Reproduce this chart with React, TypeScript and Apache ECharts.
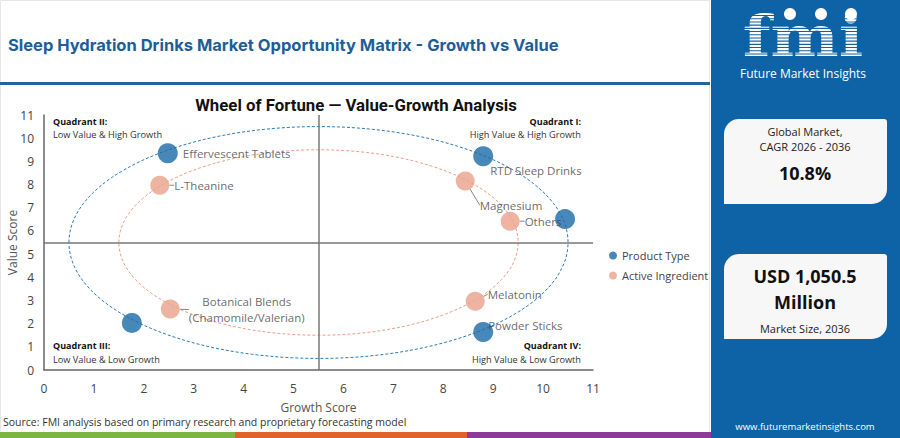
import React, { useEffect, useRef } from "react";
import * as echarts from "echarts";

// ---- data ----
const productNames = ["Effervescent Tablets", "RTD Sleep Drinks", "", "Powder Sticks", ""];
const productGrowth = [2.48, 8.8, 10.44, 8.8, 1.76];
const productValue = [9.35, 9.22, 6.51, 1.64, 2.03];

const ingredientNames = ["L-Theanine", "Magnesium", "Others", "Melatonin", "Botanical Blends\n(Chamomile/Valerian)"];
const ingredientGrowth = [2.32, 8.44, 9.34, 8.64, 2.53];
const ingredientValue = [7.97, 8.15, 6.42, 2.97, 2.63];

// rings: [centerGrowth, centerValue, radiusGrowth, radiusValue]
const productRing = [5.5, 5.5, 5, 5];
const ingredientRing = [5.5, 5.5, 4, 4];
const quadrantSplit = 5.5;
const axisMin = 0;
const axisMax = 11;

const seriesNames = ["Product Type", "Active Ingredient"];
const quadrantTitles = ["Quadrant I:", "Quadrant II:", "Quadrant III:", "Quadrant IV:"];
const quadrantDescs = ["High Value & High Growth", "Low Value & High Growth", "Low Value & Low Growth", "High Value & Low Growth"];

const BLUE = "#1a6aa8";
const ORANGE = "#eaa18b";
const FONT = "'Open Sans', 'Noto Sans', sans-serif";

export default function App() {
  const ref = useRef<HTMLDivElement>(null);

  useEffect(() => {
    document.body.style.margin = "0";
    const chart = echarts.init(ref.current!, undefined, { renderer: "svg" });

    const ringSeries = (ring: number[], color: string) => ({
      type: "custom",
      silent: true,
      z: 1,
      data: [ring],
      encode: { x: 0, y: 1 },
      renderItem: (_p: any, api: any) => {
        const c = api.coord([api.value(0), api.value(1)]);
        const s = api.size([api.value(2), api.value(3)]);
        return {
          type: "ellipse",
          shape: { cx: c[0], cy: c[1], rx: s[0], ry: s[1] },
          style: { fill: "none", stroke: color, lineWidth: 1, lineDash: [3, 2] },
        };
      },
    });

    const labelBase = { color: "#444", fontSize: 11.5, fontFamily: FONT };

    const productData = productNames.map((n, i) => {
      const item: any = { name: n, value: [productGrowth[i], productValue[i]] };
      if (!n) item.label = { show: false };
      if (i === 1) item.label = { position: [17, 24], align: "left", verticalAlign: "middle" };
      if (i === 3) item.label = { position: [15, 4], align: "left", verticalAlign: "middle" };
      return item;
    });

    const ingredientData = ingredientNames.map((n, i) => {
      const item: any = { name: n, value: [ingredientGrowth[i], ingredientValue[i]] };
      if (i === 4) item.label = { position: [86, 10], align: "center", verticalAlign: "middle", lineHeight: 16 };
      return item;
    });

    const gText = (x: number, y: number, text: string, opts: any = {}) => ({
      type: "text",
      x,
      y,
      scaleX: opts.scaleX || 1,
      silent: true,
      style: {
        text,
        fill: opts.fill || "#333",
        font: `${opts.weight || "normal"} ${opts.size || 10}px ${opts.family || FONT}`,
        textAlign: opts.align || "left",
        textVerticalAlign: "middle",
      },
    });

    const stripes: any[] = [];
    for (let y = 15; y < 57; y += 3.2) {
      stripes.push({ type: "rect", silent: true, shape: { x: 736, y, width: 134, height: 1.1 }, style: { fill: "#0d63a5" } });
    }

    const option: any = {
      animation: false,
      backgroundColor: "#ffffff",
      grid: { left: 44, right: 307, top: 115, bottom: 68, outerBoundsMode: "none", containLabel: false },
      xAxis: {
        type: "value",
        min: axisMin,
        max: axisMax,
        interval: 1,
        name: "Growth Score",
        nameLocation: "middle",
        nameGap: 31,
        nameMoveOverlap: false,
        nameTextStyle: { color: "#555", fontSize: 12, fontFamily: FONT },
        axisLine: { show: true, lineStyle: { color: "#666", width: 1.5 } },
        axisTick: { show: false },
        splitLine: { show: false },
        axisLabel: { color: "#444", fontSize: 12, margin: 12, fontFamily: FONT },
      },
      yAxis: {
        type: "value",
        min: axisMin,
        max: axisMax,
        interval: 1,
        name: "Value Score",
        nameLocation: "middle",
        nameGap: 26,
        nameMoveOverlap: false,
        nameTextStyle: { color: "#555", fontSize: 12, fontFamily: FONT },
        axisLine: { show: true, lineStyle: { color: "#666", width: 1.5 } },
        axisTick: { show: false },
        splitLine: { show: false },
        axisLabel: { color: "#444", fontSize: 12, margin: 10, fontFamily: FONT },
      },
      legend: {
        data: seriesNames,
        orient: "vertical",
        left: 604,
        top: 245,
        icon: "circle",
        itemWidth: 8,
        itemHeight: 8,
        itemGap: 9,
        textStyle: { color: "#444", fontSize: 11, fontFamily: FONT },
      },
      series: [
        ringSeries(productRing, "#2b7bbb"),
        ringSeries(ingredientRing, "#eb9f88"),
        {
          type: "scatter",
          name: seriesNames[0],
          z: 3,
          symbolSize: 20,
          itemStyle: { color: BLUE },
          label: { show: true, position: "right", distance: 5, formatter: "{b}", ...labelBase },
          data: productData,
          markLine: {
            silent: true,
            symbol: ["none", "none"],
            label: { show: false },
            lineStyle: { color: "#777", width: 1.5, type: "solid" },
            data: [{ xAxis: quadrantSplit }, { yAxis: quadrantSplit }],
          },
        },
        {
          type: "scatter",
          name: seriesNames[1],
          z: 3,
          symbolSize: 19,
          itemStyle: { color: ORANGE },
          label: { show: true, position: "right", distance: 5, formatter: "{b}", ...labelBase },
          labelLine: { show: true, lineStyle: { color: "#888", width: 1 } },
          labelLayout: (p: any) => {
            if (p.dataIndex === 1) return { dx: 0, dy: 24 };
            if (p.dataIndex === 3) return { dx: -2, dy: -7 };
            return {};
          },
          data: ingredientData,
        },
      ],
      graphic: [
        // left card border
        { type: "rect", silent: true, z: -10, shape: { x: 0.5, y: 0.5, width: 709, height: 437 }, style: { fill: "#fff", stroke: "#e6e6e6", lineWidth: 1 } },
        gText(8, 45, "Sleep Hydration Drinks Market Opportunity Matrix - Growth vs Value", { size: 16.5, weight: "bold", fill: "#1d5e98", family: "Inter, 'Open Sans', sans-serif" }),
        { type: "rect", silent: true, shape: { x: 0, y: 82, width: 710, height: 3 }, style: { fill: "#1f65a2" } },
        gText(356, 105, "Wheel of Fortune \u2014 Value-Growth Analysis", { size: 16.8, weight: "bold", fill: "#111", family: "Roboto, sans-serif", align: "center" }),
        gText(53, 121, quadrantTitles[1], { size: 9, weight: "bold", fill: "#111" }),
        gText(53, 134, quadrantDescs[1], { size: 9.2, fill: "#333" }),
        gText(581, 121, quadrantTitles[0], { size: 9, weight: "bold", fill: "#111", align: "right" }),
        gText(581, 134, quadrantDescs[0], { size: 9.2, fill: "#333", align: "right" }),
        gText(53, 345, quadrantTitles[2], { size: 9, weight: "bold", fill: "#111" }),
        gText(53, 359, quadrantDescs[2], { size: 9.2, fill: "#333" }),
        gText(581, 345, quadrantTitles[3], { size: 9, weight: "bold", fill: "#111", align: "right" }),
        gText(581, 359, quadrantDescs[3], { size: 9.2, fill: "#333", align: "right" }),
        gText(3, 422, "Source: FMI analysis based on primary research and proprietary forecasting model", { size: 10.5, fill: "#333" }),
        { type: "rect", silent: true, shape: { x: 0, y: 432, width: 235, height: 6 }, style: { fill: "#7db543" } },
        { type: "rect", silent: true, shape: { x: 235, y: 432, width: 232, height: 6 }, style: { fill: "#e2622b" } },
        { type: "rect", silent: true, shape: { x: 467, y: 432, width: 244, height: 6 }, style: { fill: "#8d3b98" } },
        // right panel
        { type: "rect", silent: true, shape: { x: 711, y: 0, width: 189, height: 438 }, style: { fill: "#0d63a5" } },
        gText(803, 36, "fmi", { size: 56, weight: "bold", fill: "#ffffff", align: "center", family: "'DejaVu Serif', serif", scaleX: 1.15 }),
        ...stripes,
        { type: "circle", silent: true, shape: { cx: 790, cy: 14, r: 6 }, style: { fill: "#fff" } },
        { type: "circle", silent: true, shape: { cx: 821, cy: 14, r: 6 }, style: { fill: "#fff" } },
        { type: "circle", silent: true, shape: { cx: 851, cy: 14, r: 6 }, style: { fill: "#fff" } },
        gText(803, 73, "Future Market Insights", { size: 12, fill: "#ffffff", align: "center" }),
        { type: "rect", silent: true, shape: { x: 724, y: 119, width: 163, height: 85, r: [15, 3, 15, 0] }, style: { fill: "#f7f7f7" } },
        gText(805, 131, "Global Market,", { size: 11, fill: "#222", align: "center" }),
        gText(805, 146, "CAGR 2026 - 2036", { size: 11, fill: "#222", align: "center" }),
        gText(805, 173, "10.8%", { size: 18, weight: "bold", fill: "#111", align: "center" }),
        { type: "rect", silent: true, shape: { x: 724, y: 254, width: 163, height: 85, r: [15, 3, 15, 0] }, style: { fill: "#f7f7f7" } },
        gText(805, 276, "USD 1,050.5", { size: 18, weight: "bold", fill: "#111", align: "center" }),
        gText(805, 302, "Million", { size: 18, weight: "bold", fill: "#111", align: "center" }),
        gText(805, 328, "Market Size, 2036", { size: 11, fill: "#222", align: "center" }),
        gText(805, 426, "www.futuremarketinsights.com", { size: 9.5, fill: "#ffffff", align: "center" }),
      ],
    };

    chart.setOption(option);
    return () => chart.dispose();
  }, []);

  return <div ref={ref} style={{ width: 900, height: 438 }} />;
}
